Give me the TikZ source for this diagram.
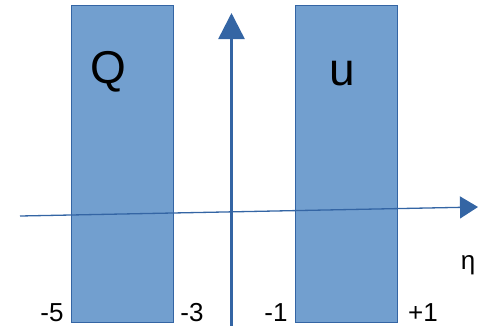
\documentclass[tikz,border=0pt]{standalone}
\usepackage{fontspec}
\setmainfont{Liberation Sans}
\usetikzlibrary{arrows.meta}
\definecolor{boxfill}{HTML}{729FCF}
\definecolor{boxline}{HTML}{3465A4}
\tikzset{
  band/.style={draw=boxline, fill=boxfill, line width=1pt},
  axis/.style={draw=boxline},
  biglabel/.style={font=\fontsize{46}{46}\selectfont, inner sep=0pt, anchor=base},
  ticklabel/.style={font=\fontsize{26}{26}\selectfont, inner sep=0pt, anchor=base}
}
\begin{document}
\begin{tikzpicture}[x=1pt,y=-1pt]
\useasboundingbox (0,0) rectangle (483,325);
\path[band] (71,5) rectangle (173,322);
\path[band] (295,5) rectangle (397,322);
\node[biglabel] (Q) at (108.5,83) {Q};
\node[biglabel] (u) at (342,85) {u};
\coordinate (hstart) at (20,216);
\coordinate (hend) at (478,207);
\coordinate (vstart) at (231.5,326);
\coordinate (vend) at (231.5,13);
\draw[axis, line width=1.3pt, -{Triangle[length=18pt,width=22pt]}] (hstart) -- (hend);
\draw[axis, line width=2.5pt, -{Triangle[length=26pt,width=26pt]}] (vstart) -- (vend);
\node[ticklabel] (m5) at (52,321) {-5};
\node[ticklabel] (m3) at (192,321) {-3};
\node[ticklabel] (m1) at (276,321) {-1};
\node[ticklabel] (p1) at (423,321) {+1};
\node[ticklabel] (eta) at (468,269) {η};
\end{tikzpicture}
\end{document}
